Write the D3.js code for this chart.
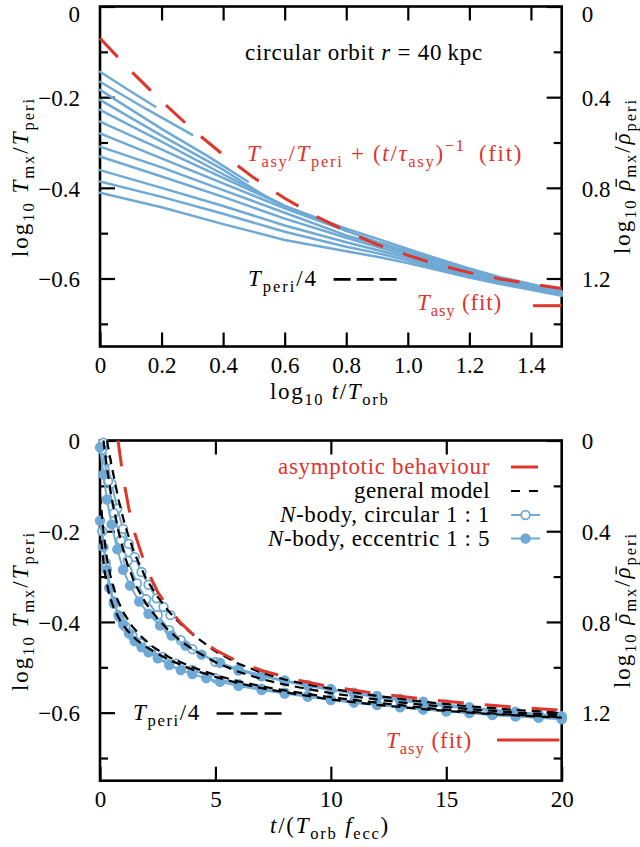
<!DOCTYPE html>
<html><head><meta charset="utf-8">
<script src="https://cdn.jsdelivr.net/npm/d3@7"></script>
<style>
body{margin:0;background:#fff}
svg{display:block}
svg text{font-family:"Liberation Serif","Times New Roman","DejaVu Serif",serif;}
</style>
</head><body>
<svg id="chart" width="640" height="847"></svg>
<script>
// ---------- top panel: circular orbit, log time ----------
// each run: [log10 t/T_orb, log10 Tmx/Tperi]
const circRuns = [
  [[0,-0.144],[0.09,-0.183],[0.18,-0.221]],
  [[0,-0.166],[0.15,-0.226],[0.30,-0.283]],
  [[0,-0.184],[0.2,-0.27],[0.35,-0.33],[0.48,-0.386]],
  [[0,-0.206],[0.2,-0.285],[0.4,-0.36],[0.54,-0.42]],
  [[0,-0.228],[0.2,-0.298],[0.4,-0.37],[0.6,-0.44],[0.81,-0.497]],
  [[0,-0.254],[0.2,-0.315],[0.4,-0.378],[0.6,-0.44],[0.8,-0.49],[0.9,-0.512],[1.0,-0.535],[1.1,-0.557],[1.2,-0.578],[1.3,-0.597],[1.4,-0.612],[1.5,-0.628]],
  [[0,-0.280],[0.2,-0.335],[0.4,-0.39],[0.6,-0.445],[0.8,-0.495],[0.9,-0.519],[1.0,-0.54],[1.1,-0.562],[1.2,-0.58],[1.3,-0.6],[1.4,-0.615],[1.5,-0.63]],
  [[0,-0.309],[0.2,-0.355],[0.4,-0.405],[0.6,-0.455],[0.8,-0.505],[0.9,-0.524],[1.0,-0.545],[1.1,-0.566],[1.2,-0.585],[1.3,-0.603],[1.4,-0.618],[1.5,-0.632]],
  [[0,-0.331],[0.2,-0.375],[0.4,-0.42],[0.6,-0.468],[0.8,-0.51],[0.9,-0.53],[1.0,-0.55],[1.1,-0.571],[1.2,-0.588],[1.3,-0.604]],
  [[0,-0.361],[0.2,-0.40],[0.4,-0.44],[0.6,-0.483],[0.8,-0.52],[0.9,-0.537],[1.0,-0.555],[1.1,-0.574],[1.2,-0.59],[1.3,-0.607],[1.4,-0.62],[1.5,-0.634]],
  [[0,-0.386],[0.2,-0.42],[0.4,-0.457],[0.6,-0.497],[0.8,-0.53],[0.9,-0.544],[1.0,-0.56],[1.1,-0.578],[1.2,-0.594],[1.3,-0.61],[1.4,-0.622],[1.5,-0.636]],
  [[0,-0.411],[0.2,-0.443],[0.4,-0.48],[0.6,-0.515],[0.8,-0.54],[0.9,-0.552],[1.0,-0.566],[1.1,-0.582],[1.2,-0.598],[1.3,-0.612],[1.4,-0.625],[1.5,-0.638]]
];
// fitted decay curve
const fitLogT = [0,0.1,0.2,0.3,0.4,0.5,0.6,0.7,0.8,0.9,1.0,1.1,1.2,1.3,1.4,1.5];
const fitLogTmx = [-0.070,-0.142,-0.209,-0.271,-0.327,-0.378,-0.423,-0.462,-0.496,-0.525,-0.549,-0.570,-0.587,-0.601,-0.612,-0.622];
const tAsyLog = -0.66;       // log10 T_asy/T_peri
const tPeriQuarter = -0.602; // log10(1/4)

// ---------- bottom panel: linear scaled time ----------
const asyT = [0.78,1.0,1.25,1.5,2,2.5,3,3.5,4,5,6,7,8,9,10,12,14,16,18,20];
const asyV = [0.0,-0.081,-0.150,-0.204,-0.281,-0.334,-0.372,-0.402,-0.426,-0.462,-0.488,-0.507,-0.521,-0.533,-0.543,-0.558,-0.570,-0.580,-0.588,-0.595];

const modelRuns = [
  {t:[0.3,0.5,0.8,1.1,1.5,2,2.5,3,3.5,4,5,6,7,8,9,10,12,14,16,18,20],
   v:[0,-0.055,-0.13,-0.19,-0.25,-0.305,-0.345,-0.378,-0.405,-0.427,-0.465,-0.492,-0.512,-0.527,-0.538,-0.547,-0.563,-0.576,-0.586,-0.594,-0.600]},
  {t:[0.15,0.3,0.5,0.8,1.1,1.5,2,2.5,3,3.5,4,5,6,7,8,9,10,12,14,16,18,20],
   v:[0,-0.06,-0.125,-0.2,-0.26,-0.315,-0.36,-0.393,-0.42,-0.442,-0.46,-0.489,-0.51,-0.526,-0.538,-0.548,-0.557,-0.571,-0.583,-0.592,-0.6,-0.606]},
  {t:[0,0.15,0.3,0.5,0.75,1,1.4,1.8,2.3,3,4,5,6,7,8,9,10,12,14,16,18,20],
   v:[-0.12,-0.2,-0.26,-0.31,-0.35,-0.378,-0.41,-0.433,-0.455,-0.478,-0.5,-0.517,-0.531,-0.542,-0.551,-0.559,-0.566,-0.578,-0.589,-0.598,-0.605,-0.610]},
  {t:[0.05,0.2,0.4,0.6,0.9,1.2,1.6,2,2.5,3,4,5,6,7,8,9,10,12,14,16,18,20],
   v:[-0.22,-0.29,-0.34,-0.37,-0.4,-0.42,-0.44,-0.455,-0.47,-0.484,-0.505,-0.521,-0.535,-0.546,-0.555,-0.563,-0.571,-0.583,-0.592,-0.600,-0.606,-0.611]}
];

const circularT1 = [0.15,0.3,0.5,0.75,1.0,1.25,1.5,1.8,2.1,2.45,2.75,3.05];
const circularV1 = [-0.005,-0.045,-0.095,-0.15,-0.195,-0.228,-0.257,-0.29,-0.318,-0.348,-0.367,-0.385];
const circularT2 = [0.1,0.35,0.6,0.9,1.2,1.6,2.0,2.5,3.0,3.5,4.0,5,6,7,8,9,10,11,12,13,14,15,16,17,18,19,20];
const circularV2 = [-0.02,-0.09,-0.16,-0.22,-0.265,-0.315,-0.35,-0.385,-0.418,-0.44,-0.46,-0.488,-0.507,-0.52,-0.531,-0.541,-0.55,-0.558,-0.566,-0.573,-0.58,-0.586,-0.592,-0.597,-0.602,-0.607,-0.612];
const circularT3 = [0.1,0.25,0.4,0.6,0.85,1.1,1.4,1.75,2.2,2.7,3.3,4,5,6,7,8,9,10,11,12,13,14,15,16,17,18,19,20];
const circularV3 = [-0.2,-0.27,-0.325,-0.36,-0.39,-0.41,-0.43,-0.447,-0.463,-0.477,-0.492,-0.506,-0.524,-0.537,-0.547,-0.556,-0.563,-0.57,-0.576,-0.582,-0.587,-0.592,-0.597,-0.601,-0.605,-0.608,-0.611,-0.614];
const eccentricT1 = [0,0.15,0.3,0.5,0.75,1.0,1.3,1.7,2.1,2.6,3.1,3.7,4.4,5.2,6,7,8,9,10,11,12,13,14,15,16,17,18,19,20];
const eccentricV1 = [-0.015,-0.075,-0.13,-0.185,-0.24,-0.285,-0.32,-0.355,-0.382,-0.408,-0.43,-0.452,-0.472,-0.49,-0.504,-0.517,-0.529,-0.539,-0.548,-0.556,-0.563,-0.57,-0.576,-0.582,-0.588,-0.593,-0.598,-0.603,-0.608];
const eccentricT2 = [0,0.15,0.3,0.45,0.6,0.8,1.0,1.25,1.5,1.8,2.1,2.5,3.0,3.5,4.0,4.6,5.2,6,7,8,9,10,11,12,13,14,15,16,17,18,19,20];
const eccentricV2 = [-0.177,-0.235,-0.285,-0.325,-0.355,-0.385,-0.405,-0.425,-0.442,-0.456,-0.467,-0.48,-0.495,-0.506,-0.515,-0.524,-0.532,-0.541,-0.55,-0.558,-0.565,-0.572,-0.578,-0.583,-0.588,-0.593,-0.597,-0.601,-0.605,-0.608,-0.611,-0.614];

// tick values
const leftMajor = [0,-0.2,-0.4,-0.6], leftMinor = [-0.1,-0.3,-0.5,-0.7];
const rightMajor = [0,0.4,0.8,1.2], rightMinor = [0.2,0.6,1.0,1.4];
const topXTicks = [0,0.2,0.4,0.6,0.8,1,1.2,1.4];
const botXTicks = [0,5,10,15,20];

// ---------- styling ----------
const BLUE = '#6fa9d5', RED = '#e0352b', FS = 23;
const FONT = '"Liberation Serif","Times New Roman","DejaVu Serif",serif';
const svg = d3.select('#chart');
const L = 100, R = 561.7;

// text with italic / sub / superscript runs; o.width stretches the letter spacing to a given span
function rich(sel, x, y, segs, o = {}) {
  const fs = o.size || FS;
  const grp = sel.append('g');
  if (o.rotate) grp.attr('transform', `rotate(${o.rotate},${x},${y})`);
  const t = grp.append('text').attr('x', x).attr('y', y).attr('font-size', fs)
    .attr('font-family', FONT)
    .attr('fill', o.fill || '#000').attr('text-anchor', o.anchor || 'start');
  let cur = 0;
  const barred = [];
  segs.forEach(s => {
    const [str, kind] = Array.isArray(s) ? s : [s, ''];
    let shift = 0, size = fs;
    if (kind.includes('_')) { shift = 0.28 * fs; size = 0.72 * fs; }
    if (kind.includes('^')) { shift = -0.42 * fs; size = 0.72 * fs; }
    const ts = t.append('tspan').text(str).attr('font-size', size).attr('dy', shift - cur);
    if (kind.includes('i')) ts.attr('font-style', 'italic');
    if (kind.includes('o')) barred.push(ts.node());
    cur = shift;
  });
  if (o.width) {
    const node = t.node();
    const w = node.getComputedTextLength();
    const n = node.textContent.length;
    t.style('letter-spacing', ((o.width - w) / n) + 'px');
  }
  barred.forEach(nd => {
    const bb = nd.getBBox();
    grp.append('line').attr('x1', bb.x + 0.22 * fs).attr('x2', bb.x + 0.56 * fs)
      .attr('y1', y - 0.6 * fs).attr('y2', y - 0.6 * fs)
      .attr('stroke', o.fill || '#000').attr('stroke-width', 1.3);
  });
  return t;
}

function panel(top, bottom, x, xTicks, xTopTicks, xFmt) {
  const g = svg.append('g');
  const y = d3.scaleLinear().domain([-0.75, 0]).range([bottom, top]);
  const yR = d3.scaleLinear().domain([1.5, 0]).range([bottom, top]);
  const styleAxis = a => {
    a.select('.domain').remove();
    a.attr('font-family', FONT).attr('font-size', FS);
    a.selectAll('line').attr('stroke', '#000').attr('stroke-width', 2.2);
    a.selectAll('text').attr('font-family', FONT).attr('font-size', FS).attr('fill', '#000');
  };
  const fmtL = d => d === 0 ? '0' : d3.format('.1f')(d);
  // the label at the very top edge sits a little lower so that it stays on the page
  const yLab = a => a.selectAll('text').attr('dy', d => d === 0 && top < 20 ? '14.5px' : '0.36em');
  g.append('g').attr('transform', `translate(${L},0)`)
    .call(d3.axisLeft(y).tickValues(leftMajor).tickSize(-15).tickPadding(20).tickFormat(fmtL)).call(styleAxis).call(yLab);
  g.append('g').attr('transform', `translate(${L},0)`)
    .call(d3.axisLeft(y).tickValues(leftMinor).tickSize(-8).tickFormat('')).call(styleAxis);
  g.append('g').attr('transform', `translate(${R},0)`)
    .call(d3.axisRight(yR).tickValues(rightMajor).tickSize(-15).tickPadding(20).tickFormat(fmtL)).call(styleAxis).call(yLab);
  g.append('g').attr('transform', `translate(${R},0)`)
    .call(d3.axisRight(yR).tickValues(rightMinor).tickSize(-8).tickFormat('')).call(styleAxis);
  g.append('g').attr('transform', `translate(0,${bottom})`)
    .call(d3.axisBottom(x).tickValues(xTicks).tickSize(-14).tickPadding(10).tickFormat(xFmt)).call(styleAxis);
  g.append('g').attr('transform', `translate(0,${top})`)
    .call(d3.axisTop(x).tickValues(xTopTicks).tickSize(-14).tickFormat('')).call(styleAxis);
  g.append('rect').attr('x', L).attr('y', top).attr('width', R - L).attr('height', bottom - top)
    .attr('fill', 'none').attr('stroke', '#000').attr('stroke-width', 2.6);
  return { g, y };
}

// ================= top panel =================
const xTop = d3.scaleLinear().domain([0, 1.5]).range([L, R]);
const P1 = panel(6.5, 346.5, xTop, topXTicks, topXTicks.filter(d => d > 0), d => d === 0 ? '0' : d3.format('.1f')(d));
const yTop = P1.y;
const line1 = d3.line().x(d => xTop(d[0])).y(d => yTop(d[1]));

const dataTop = svg.append('g');
dataTop.selectAll('path.run').data(circRuns).join('path').attr('class', 'run')
  .attr('d', line1).attr('fill', 'none').attr('stroke', BLUE).attr('stroke-width', 2.5)
  .attr('stroke-linejoin', 'round').attr('stroke-linecap', 'round');
dataTop.append('path').datum(d3.zip(fitLogT, fitLogTmx)).attr('d', line1)
  .attr('fill', 'none').attr('stroke', RED).attr('stroke-width', 3).attr('stroke-dasharray', '26,21');
dataTop.append('line').attr('x1', xTop(1.407)).attr('x2', xTop(1.5)).attr('y1', yTop(tAsyLog)).attr('y2', yTop(tAsyLog))
  .attr('stroke', RED).attr('stroke-width', 3);
dataTop.append('line').attr('x1', xTop(0.759)).attr('x2', xTop(0.97)).attr('y1', yTop(tPeriQuarter)).attr('y2', yTop(tPeriQuarter))
  .attr('stroke', '#000').attr('stroke-width', 2.6).attr('stroke-dasharray', '17,6');

rich(svg, 245, 60, ['circular orbit ', ['r', 'i'], ' = 40\u2009kpc'], { width: 238 });
rich(svg, 247, 161, [['T', 'i'], ['asy', '_'], '/', ['T', 'i'], ['peri', '_'], ' + (', ['t', 'i'], '/', ['τ', 'i'], ['asy', '_'], ')', ['−1', '^'], '\u2002(fit)'], { fill: RED, width: 276 });
rich(svg, 248, 286, [['T', 'i'], ['peri', '_'], '/4'], { width: 70 });
rich(svg, 417, 310, [['T', 'i'], ['asy', '_'], '  (fit)'], { fill: RED, width: 86 });

rich(svg, 270, 399, ['log', ['10', '_'], '  ', ['t', 'i'], '/', ['T', 'i'], ['orb', '_']], { width: 121 });
rich(svg, 28, 177, ['log', ['10', '_'], '  ', ['T', 'i'], ['mx', '_'], '/', ['T', 'i'], ['peri', '_']], { anchor: 'middle', rotate: -90, width: 162 });
rich(svg, 630, 176, ['log', ['10', '_'], '  ', ['ρ', 'io'], ['mx', '_'], '/', ['ρ', 'io'], ['peri', '_']], { anchor: 'middle', rotate: -90, width: 158 });

// ================= bottom panel =================
const xBot = d3.scaleLinear().domain([0, 20]).range([L, R]);
const P2 = panel(440.5, 780.7, xBot, botXTicks, [5, 10, 15], d3.format('d'));
const yBot = P2.y;
const line2 = d3.line().x(d => xBot(d[0])).y(d => yBot(d[1]));

const sims = [
  { t: circularT1, v: circularV1, filled: false },
  { t: circularT2, v: circularV2, filled: false },
  { t: circularT3, v: circularV3, filled: false },
  { t: eccentricT1, v: eccentricV1, filled: true },
  { t: eccentricT2, v: eccentricV2, filled: true }
];
const dataBot = svg.append('g');
sims.forEach(s => {
  const pts = d3.zip(s.t, s.v);
  dataBot.append('path').datum(pts).attr('d', line2).attr('fill', 'none')
    .attr('stroke', BLUE).attr('stroke-width', 2);
  dataBot.selectAll(null).data(pts).join('circle')
    .attr('cx', d => xBot(d[0])).attr('cy', d => yBot(d[1])).attr('r', 4.3)
    .attr('fill', s.filled ? BLUE : '#fff').attr('stroke', BLUE).attr('stroke-width', 1.8);
});
modelRuns.forEach(m => {
  dataBot.append('path').datum(d3.zip(m.t, m.v)).attr('d', line2).attr('fill', 'none')
    .attr('stroke', '#000').attr('stroke-width', 2.2).attr('stroke-dasharray', '9,6');
});
dataBot.append('path').datum(d3.zip(asyT, asyV)).attr('d', line2).attr('fill', 'none')
  .attr('stroke', RED).attr('stroke-width', 3).attr('stroke-dasharray', '26,21');
dataBot.append('line').attr('x1', xBot(17.2)).attr('x2', xBot(19.9)).attr('y1', yBot(tAsyLog)).attr('y2', yBot(tAsyLog))
  .attr('stroke', RED).attr('stroke-width', 3);
dataBot.append('line').attr('x1', xBot(5.05)).attr('x2', xBot(7.9)).attr('y1', yBot(tPeriQuarter)).attr('y2', yBot(tPeriQuarter))
  .attr('stroke', '#000').attr('stroke-width', 2.6).attr('stroke-dasharray', '17,7');

rich(svg, 133, 720, [['T', 'i'], ['peri', '_'], '/4'], { width: 68 });
rich(svg, 386, 748, [['T', 'i'], ['asy', '_'], '  (fit)'], { fill: RED, width: 87 });

// legend
const lg = svg.append('g');
const legendRows = [
  { y: 467, label: ['asymptotic behaviour'], fill: RED, kind: 'red', w: 212 },
  { y: 491, label: ['general model'], fill: '#000', kind: 'dash', w: 136 },
  { y: 515, label: [['N', 'i'], '-body, circular 1 : 1'], fill: '#000', kind: 'open', w: 210 },
  { y: 538.5, label: [['N', 'i'], '-body, eccentric 1 : 5'], fill: '#000', kind: 'filled', w: 222 }
];
legendRows.forEach(r => {
  rich(lg, 490 - r.w, r.y + 7, r.label, { fill: r.fill, width: r.w });
  if (r.kind === 'red') lg.append('line').attr('x1', 511).attr('x2', 538).attr('y1', r.y).attr('y2', r.y).attr('stroke', RED).attr('stroke-width', 3);
  if (r.kind === 'dash') lg.append('line').attr('x1', 511).attr('x2', 538).attr('y1', r.y).attr('y2', r.y).attr('stroke', '#000').attr('stroke-width', 2.2).attr('stroke-dasharray', '9,9');
  if (r.kind === 'open' || r.kind === 'filled') {
    lg.append('line').attr('x1', 511).attr('x2', 540).attr('y1', r.y).attr('y2', r.y).attr('stroke', BLUE).attr('stroke-width', 2);
    lg.append('circle').attr('cx', 525.5).attr('cy', r.y).attr('r', 4.3)
      .attr('fill', r.kind === 'filled' ? BLUE : '#fff').attr('stroke', BLUE).attr('stroke-width', 1.8);
  }
});

rich(svg, 270, 833, [['t', 'i'], '/(', ['T', 'i'], ['orb', '_'], ' ', ['f', 'i'], ['ecc', '_'], ')'], { width: 120 });
rich(svg, 28, 611, ['log', ['10', '_'], '  ', ['T', 'i'], ['mx', '_'], '/', ['T', 'i'], ['peri', '_']], { anchor: 'middle', rotate: -90, width: 162 });
rich(svg, 630, 610, ['log', ['10', '_'], '  ', ['ρ', 'io'], ['mx', '_'], '/', ['ρ', 'io'], ['peri', '_']], { anchor: 'middle', rotate: -90, width: 158 });
</script>
</body></html>
